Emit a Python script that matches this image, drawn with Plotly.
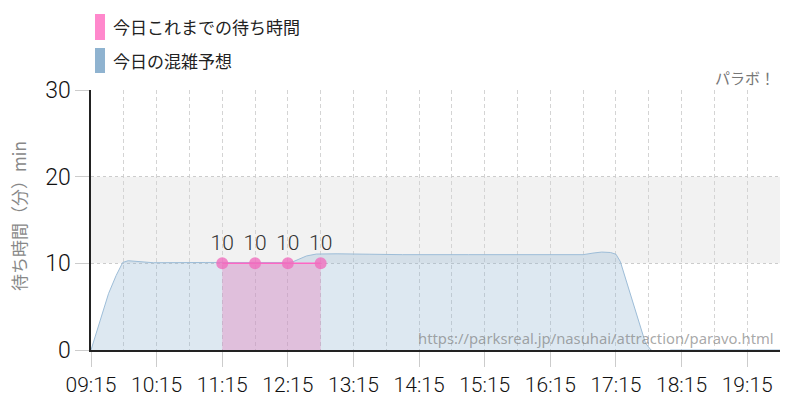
import plotly.graph_objects as go

DAY = "2024-01-01 "

# 今日の混雑予想 (forecast)
forecast_times = ["09:15", "09:31", "09:38", "09:44", "09:49", "10:12", "11:00", "11:45",
                  "12:15", "12:20", "12:32", "12:41", "13:00", "13:30", "14:00", "15:00",
                  "16:00", "16:45", "16:55", "17:02", "17:10", "17:15", "17:19", "17:30",
                  "17:42", "17:47", "17:52", "18:01", "18:05", "19:45"]
forecast_values = [0, 6.5, 8.6, 10.1, 10.3, 10.07, 10.1, 10.1,
                   10.1, 10.2, 10.85, 11.07, 11.1, 11.05, 11.0, 11.0,
                   11.0, 11.0, 11.2, 11.3, 11.25, 11.05, 10.2, 5.8,
                   0.8, 0, -0.25, -0.25, 0, 0]

# 今日これまでの待ち時間 (actual)
actual_times = ["11:15", "11:45", "12:15", "12:45"]
actual_values = [10, 10, 10, 10]

y_ticks = [0, 10, 20, 30]
legend_labels = ["今日これまでの待ち時間", "今日の混雑予想"]
legend_colors = ["#ff88cc", "#8fb3d0"]

NARROW = "Roboto, Liberation Sans Narrow, sans-serif"
CJK = "Noto Sans CJK JP, Noto Sans, sans-serif"

W, H = 800, 400
ML, MR, MT, MB = 91, 20, 90, 50
PW, PH = W - ML - MR, H - MT - MB


def px_x(px):
    return (px - ML) / PW


def px_y(py):
    return (H - MB - py) / PH


fig = go.Figure()
fig.add_trace(go.Scatter(
    x=[DAY + t for t in forecast_times], y=forecast_values, mode="lines",
    line=dict(color="#9dbdd8", width=1), fill="tozeroy",
    fillcolor="rgba(143,179,208,0.3)", hoverinfo="skip", showlegend=False))
fig.add_trace(go.Scatter(
    x=[DAY + t for t in actual_times], y=actual_values, mode="lines",
    line=dict(color="#ff66c4", width=1.5), fill="tozeroy",
    fillcolor="rgba(230,130,190,0.4)", hoverinfo="skip", showlegend=False))
fig.add_trace(go.Scatter(
    x=[DAY + t for t in actual_times], y=actual_values, mode="markers+text",
    marker=dict(size=12, color="rgba(240,110,190,0.8)", line=dict(width=0)),
    text=[str(v) for v in actual_values], textposition="top center",
    textfont=dict(family=NARROW, size=21, color="#333", weight=300),
    cliponaxis=False, hoverinfo="skip", showlegend=False))

shapes = [dict(type="rect", xref="paper", yref="y", x0=0, x1=1, y0=10, y1=20,
               fillcolor="#f2f2f2", line=dict(width=0), layer="below")]
annotations = []
leg_y = [(14, 40), (48, 73)]
for (y0, y1), lab, col in zip(leg_y, legend_labels, legend_colors):
    shapes.append(dict(type="rect", xref="paper", yref="paper",
                       x0=px_x(95), x1=px_x(105), y0=px_y(y1), y1=px_y(y0),
                       fillcolor=col, line=dict(width=0)))
    annotations.append(dict(xref="paper", yref="paper", x=px_x(111), y=px_y((y0 + y1) / 2),
                            xanchor="left", yanchor="middle", showarrow=False, text=lab,
                            font=dict(family=CJK, size=17, color="#222")))

annotations.append(dict(xref="paper", yref="paper", x=px_x(777), y=px_y(78),
                        xanchor="right", yanchor="middle", showarrow=False, text="パラボ！",
                        font=dict(family=CJK, size=15, color="#777")))
annotations.append(dict(xref="paper", yref="paper", x=px_x(776), y=px_y(338),
                        xanchor="right", yanchor="middle", showarrow=False,
                        text="https://parksreal.jp/nasuhai/attraction/paravo.html",
                        font=dict(family="Noto Sans, sans-serif", size=14.8,
                                  color="rgba(120,120,120,0.65)")))
# y-axis title
annotations.append(dict(xref="paper", yref="paper", x=px_x(18), y=px_y(216),
                        xanchor="center", yanchor="middle", showarrow=False, textangle=-90,
                        text="待ち時間（分）min",
                        font=dict(family=CJK, size=17, color="#888")))

fig.update_layout(
    width=W, height=H, margin=dict(l=ML, r=MR, t=MT, b=MB),
    paper_bgcolor="white", plot_bgcolor="white",
    shapes=shapes, annotations=annotations, showlegend=False,
    xaxis=dict(
        type="date", range=[DAY + "09:15", DAY + "19:45"],
        tick0=DAY + "09:15", dtick=3600000, tickformat="%H:%M",
        showgrid=True, gridcolor="#d4d4d4", griddash="4px,3px", gridwidth=1,
        ticks="outside", ticklen=15, tickcolor="#cccccc",
        showline=True, linecolor="#222", linewidth=1.5, zeroline=False,
        tickfont=dict(family=NARROW, size=21, color="#111", weight=300),
        minor=dict(tick0=DAY + "09:15", dtick=1800000, showgrid=True,
                   gridcolor="#d4d4d4", griddash="4px,3px", ticks=""),
        automargin=False, fixedrange=True,
    ),
    yaxis=dict(
        range=[0, 30], tickvals=y_ticks, showgrid=True, gridcolor="#cccccc",
        griddash="dot", ticks="outside", ticklen=14, tickcolor="#cccccc",
        showline=True, linecolor="#222", linewidth=1.5, zeroline=False,
        tickfont=dict(family=NARROW, size=23, color="#111", weight=300),
        automargin=False, fixedrange=True,
    ),
)

fig.write_html("out.html")
